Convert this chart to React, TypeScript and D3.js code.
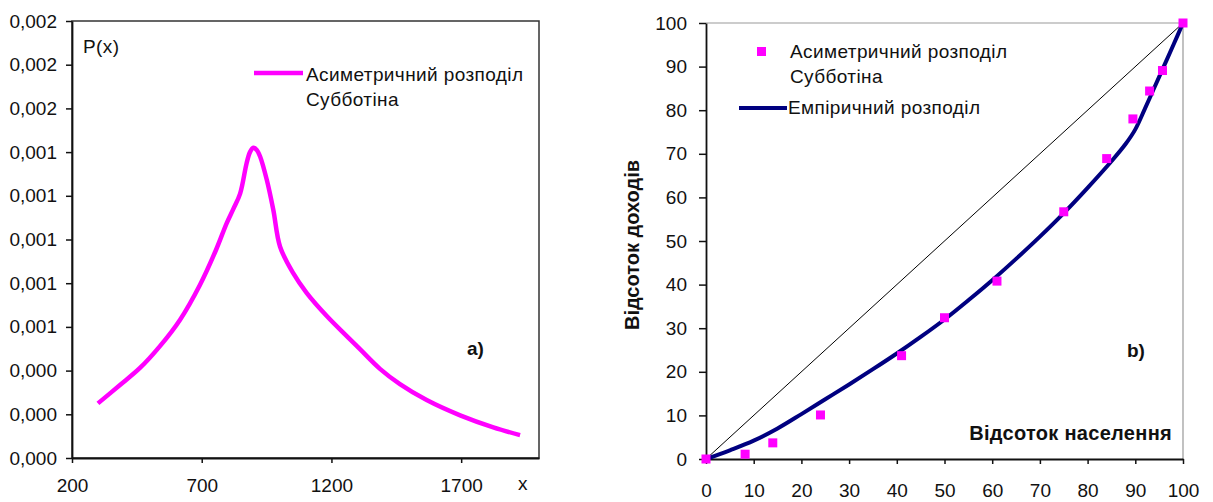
import React, { useEffect, useRef } from "react";
import * as d3 from "d3";

// a) asymmetric Subbotin density
const densityX = [300, 385, 462, 539, 616, 693, 755, 796, 822, 848, 873, 886, 899, 912, 925, 951, 976, 1002, 1052, 1105, 1182, 1259, 1310, 1387, 1464, 1567, 1696, 1824, 1927];
const densityP = [0.00025, 0.000334, 0.000412, 0.000512, 0.000632, 0.000792, 0.000952, 0.001074, 0.00114, 0.00121, 0.001349, 0.0014, 0.00142, 0.00141, 0.00138, 0.001272, 0.001135, 0.000967, 0.000847, 0.000755, 0.00065, 0.000558, 0.000498, 0.000408, 0.000338, 0.000265, 0.000195, 0.00014, 0.000105];
const xTicksA = [200, 700, 1200, 1700];
const yTicksA = [0, 0.0002, 0.0004, 0.0006, 0.0008, 0.001, 0.0012, 0.0014, 0.0016, 0.0018, 0.002];

// b) Lorenz curves
const empiricalX = [0, 5, 10, 15, 20, 25, 30, 35, 40, 45, 50, 55, 60, 65, 70, 75, 80, 85, 88, 90, 92, 94, 96, 98, 100];
const empiricalY = [0, 2, 4.2, 7.0, 10.3, 13.7, 17.1, 20.6, 24.2, 28, 32, 36.4, 41, 45.9, 51, 56.4, 62.2, 68.3, 72.3, 75.6, 80.3, 85.2, 90.1, 95, 100];
const subbotinX = [0, 8.2, 14, 24, 41, 50, 61, 75, 84, 89.5, 93, 95.7, 100];
const subbotinY = [0, 1.1, 3.7, 10.1, 23.7, 32.4, 40.8, 56.7, 68.9, 78, 84.4, 89.1, 100];
const ticksB = [0, 10, 20, 30, 40, 50, 60, 70, 80, 90, 100];

const font = "'Liberation Sans', Arial, sans-serif";

const Charts = () => {
    const ref = useRef<SVGSVGElement>(null);
    useEffect(() => {
        const svg = d3.select(ref.current);
        svg.selectAll("*").remove();

        // ---------- a) ----------
        const xA = d3.scaleLinear().domain([200, 2000]).range([72, 539]);
        const yA = d3.scaleLinear().domain([0, 0.002]).range([458, 21]);

        svg.append("rect")
            .attr("x", 72).attr("y", 21)
            .attr("width", 539 - 72).attr("height", 458 - 21)
            .attr("fill", "none").attr("stroke", "#333").attr("stroke-width", 1.5);

        const axA1 = svg.append("g").attr("transform", "translate(0,458)")
            .call(d3.axisBottom(xA).tickValues(xTicksA).tickSize(5).tickSizeOuter(0).tickPadding(16).tickFormat(d3.format("d")));
        const axA2 = svg.append("g").attr("transform", "translate(72,0)")
            .call(d3.axisLeft(yA).tickValues(yTicksA).tickSize(6).tickSizeOuter(0).tickPadding(9)
                .tickFormat((d) => (+d).toFixed(3).replace(".", ",")));

        const lineA = d3.line<number>()
            .x((d, i) => xA(densityX[i]))
            .y((d) => yA(d))
            .curve(d3.curveCatmullRom.alpha(0.5));
        svg.append("path")
            .datum(densityP)
            .attr("d", lineA)
            .attr("fill", "none")
            .attr("stroke", "#ff00ff")
            .attr("stroke-width", 4.5)
            .attr("stroke-linejoin", "round");

        // legend a
        svg.append("line").attr("x1", 254).attr("x2", 303).attr("y1", 73).attr("y2", 73)
            .attr("stroke", "#ff00ff").attr("stroke-width", 4.5);
        const tA = svg.append("text").attr("x", 306).attr("y", 81).attr("font-size", 19).attr("letter-spacing", 0.4);
        tA.append("tspan").attr("x", 306).text("Асиметричний розподіл");
        tA.append("tspan").attr("x", 306).attr("dy", 25).text("Субботіна");
        svg.append("text").attr("x", 83).attr("y", 53).attr("font-size", 19).attr("letter-spacing", 0.4).text("P(x)");
        svg.append("text").attr("x", 467).attr("y", 355).attr("font-size", 19).attr("font-weight", "bold").text("a)");
        svg.append("text").attr("x", 518).attr("y", 490).attr("font-size", 19).text("x");

        // ---------- b) ----------
        const xB = d3.scaleLinear().domain([0, 100]).range([706, 1183]);
        const yB = d3.scaleLinear().domain([0, 100]).range([459, 23]);

        svg.append("path")
            .attr("d", `M${xB(0)},${yB(100)}H${xB(100)}V${yB(0)}`)
            .attr("fill", "none").attr("stroke", "#999").attr("stroke-width", 1.2);

        const axB1 = svg.append("g").attr("transform", "translate(0,459)")
            .call(d3.axisBottom(xB).tickValues(ticksB).tickSize(5).tickSizeOuter(0).tickPadding(20));
        const axB2 = svg.append("g").attr("transform", "translate(706,0)")
            .call(d3.axisLeft(yB).tickValues(ticksB).tickSize(7).tickSizeOuter(0).tickPadding(12));

        // equality line
        svg.append("line")
            .attr("x1", xB(0)).attr("y1", yB(0)).attr("x2", xB(100)).attr("y2", yB(100))
            .attr("stroke", "#000").attr("stroke-width", 1);

        const lineB = d3.line<number>()
            .x((d, i) => xB(empiricalX[i]))
            .y((d) => yB(d))
            .curve(d3.curveCatmullRom.alpha(0.5));
        svg.append("path")
            .datum(empiricalY)
            .attr("d", lineB)
            .attr("fill", "none")
            .attr("stroke", "#000080")
            .attr("stroke-width", 4);

        svg.append("g").selectAll("rect")
            .data(subbotinY)
            .join("rect")
            .attr("x", (d, i) => xB(subbotinX[i]) - 4.5)
            .attr("y", (d) => yB(d) - 4.5)
            .attr("width", 9).attr("height", 9)
            .attr("fill", "#ff00ff");

        // legend b
        svg.append("rect").attr("x", 757).attr("y", 47).attr("width", 9).attr("height", 9).attr("fill", "#ff00ff");
        const tB = svg.append("text").attr("x", 790).attr("y", 58).attr("font-size", 19).attr("letter-spacing", 0.4);
        tB.append("tspan").attr("x", 790).text("Асиметричний розподіл");
        tB.append("tspan").attr("x", 790).attr("dy", 25).text("Субботіна");
        svg.append("line").attr("x1", 739).attr("x2", 787).attr("y1", 108).attr("y2", 108)
            .attr("stroke", "#000080").attr("stroke-width", 4);
        svg.append("text").attr("x", 788).attr("y", 114).attr("font-size", 19).attr("letter-spacing", 0.4).text("Емпіричний розподіл");

        svg.append("text").attr("x", 1127).attr("y", 357).attr("font-size", 19).attr("font-weight", "bold").text("b)");
        svg.append("text").attr("x", 1172).attr("y", 440).attr("font-size", 20).attr("font-weight", "bold")
            .attr("letter-spacing", 0.3).attr("text-anchor", "end").text("Відсоток населення");
        svg.append("text")
            .attr("transform", "translate(639,245) rotate(-90)")
            .attr("text-anchor", "middle").attr("font-size", 20).attr("font-weight", "bold")
            .text("Відсоток доходів");

        // axis styling
        [axA1, axA2, axB1, axB2].forEach((ax) => {
            ax.attr("font-family", font).attr("font-size", 19);
            ax.selectAll("text").attr("fill", "#111").attr("font-size", 19);
            ax.selectAll("line").attr("stroke", "#111").attr("stroke-width", 1.5);
            ax.select(".domain").attr("stroke", "#111").attr("stroke-width", 1.8);
        });
    }, []);

    return (
        <svg
            ref={ref}
            width={1213}
            height={502}
            fontFamily={font}
            fill="#111"
            style={{ position: "absolute", left: 0, top: 0, background: "#fff" }}
        ></svg>
    );
};

export default function App() {
    return <Charts />;
}
